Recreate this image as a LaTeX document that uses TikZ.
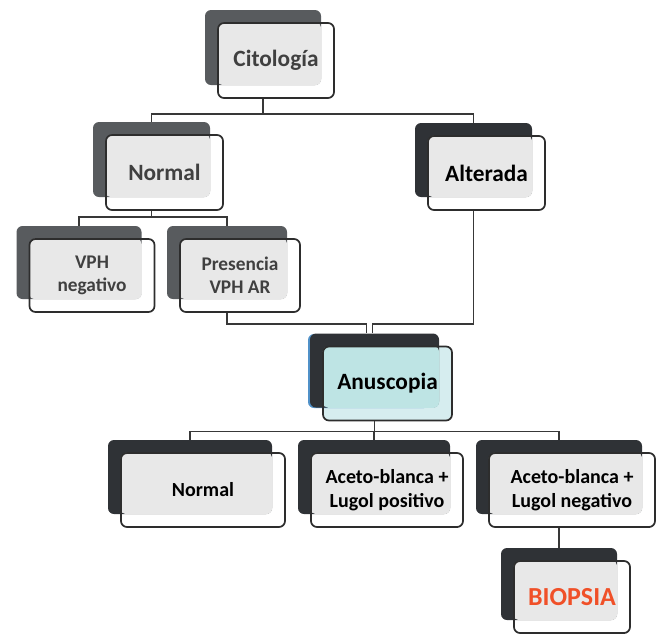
\documentclass[tikz,border=0pt]{standalone}
\usepackage{fontspec}
\setmainfont{Carlito}
\usepackage{tikz}
\definecolor{fondoGris}{RGB}{88,91,94}
\definecolor{fondoOscuro}{RGB}{47,50,54}
\definecolor{relleno}{RGB}{232,232,232}
\definecolor{borde}{RGB}{45,45,45}
\definecolor{textoGris}{RGB}{64,64,64}
\definecolor{turquesa}{RGB}{190,228,228}
\definecolor{turquesaClaro}{RGB}{214,237,239}
\definecolor{azulBorde}{RGB}{80,145,200}
\definecolor{naranja}{RGB}{240,80,40}

\tikzset{
  fondo/.style={rounded corners=4.5pt, inner sep=0pt},
  frente/.style={draw=borde, line width=1.3pt, rounded corners=4.5pt, inner sep=0pt, align=center},
  conector/.style={draw=black!78, line width=1.25pt},
  tamGrande/.style={font=\bfseries\fontsize{17.5}{20}\selectfont},
  tamMedio/.style={font=\bfseries\fontsize{14.5}{17.5}\selectfont},
  tamBajo/.style={font=\bfseries\fontsize{15}{17.5}\selectfont},
  tamBiopsia/.style={font=\bfseries\fontsize{19.5}{22}\selectfont},
}

\newcommand{\caja}[9]{%
  \node[fondo, fill=#6, minimum width=#4*0.75pt, minimum height=#5*0.75pt] (#1B) at (#2-13,#3-13) {};
  \fill[#7, rounded corners=4pt] (#1B.north west) ++(13,13) rectangle (#1B.south east);
  \node[frente, #8, minimum width=#4*0.75pt, minimum height=#5*0.75pt] (#1) at (#2,#3) {#9};
}

\begin{document}
\begin{tikzpicture}[x=0.75pt, y=-0.75pt]
\useasboundingbox (0,0) rectangle (659,633);

\caja{cit}{276}{60.5}{116}{75}{fondoGris}{relleno}{text=textoGris, tamGrande}{Citología}
\caja{norm}{164.5}{172.5}{117}{75}{fondoGris}{relleno}{text=textoGris, tamGrande}{Normal}
\caja{alt}{486.5}{173}{117}{74}{fondoOscuro}{relleno}{text=black, tamGrande}{Alterada}
\caja{vph}{92}{275.5}{125}{73}{fondoGris}{relleno}{text=textoGris, tamMedio}{VPH\\negativo}
\caja{pres}{240}{275.5}{120}{73}{fondoGris}{relleno}{text=textoGris, tamMedio}{Presencia\\VPH AR}

\fill[turquesaClaro, rounded corners=4pt] (323,347) rectangle (452,420);
\fill[azulBorde, rounded corners=4.5pt] (308,334) rectangle (430,408);
\caja{anus}{387.5}{383.5}{129}{74}{fondoOscuro}{turquesa}{text=black, tamGrande}{Anuscopia}

\caja{bnorm}{203}{490}{164}{74}{fondoOscuro}{relleno}{text=black, tamBajo}{Normal}
\caja{bpos}{387}{490}{152}{74}{fondoOscuro}{relleno}{text=black, tamBajo}{Aceto-blanca +\\Lugol positivo}
\caja{bneg}{572}{490}{166}{74}{fondoOscuro}{relleno}{text=black, tamBajo}{Aceto-blanca +\\Lugol negativo}
\caja{biop}{572}{597}{116}{72}{fondoOscuro}{relleno}{text=naranja, tamBiopsia}{BIOPSIA}

\draw[conector] (citB.south |- cit.south) -- ++(0,15) -| (normB.north);
\draw[conector] (citB.south |- cit.south) -- ++(0,15) -| (altB.north);
\draw[conector] (normB.south |- norm.south) -- ++(0,6) -| (vphB.north);
\draw[conector] (normB.south |- norm.south) -- ++(0,6) -| (presB.north);
\draw[conector] (presB.south |- pres.south) -- ++(0,11) -| ([xshift=-6pt]anusB.north);
\draw[conector] (altB.south |- alt.south) -- ++(0,113) -| ([xshift=-1.5pt]anusB.north);
\draw[conector] (anusB.south |- anus.south) -- ++(0,10) -| (bnormB.north);
\draw[conector] (anusB.south |- anus.south) -- ++(0,10) -| (bposB.north);
\draw[conector] (anusB.south |- anus.south) -- ++(0,10) -| (bnegB.north);
\draw[conector] (bnegB.south |- bneg.south) -- (biopB.north);
\end{tikzpicture}
\end{document}
